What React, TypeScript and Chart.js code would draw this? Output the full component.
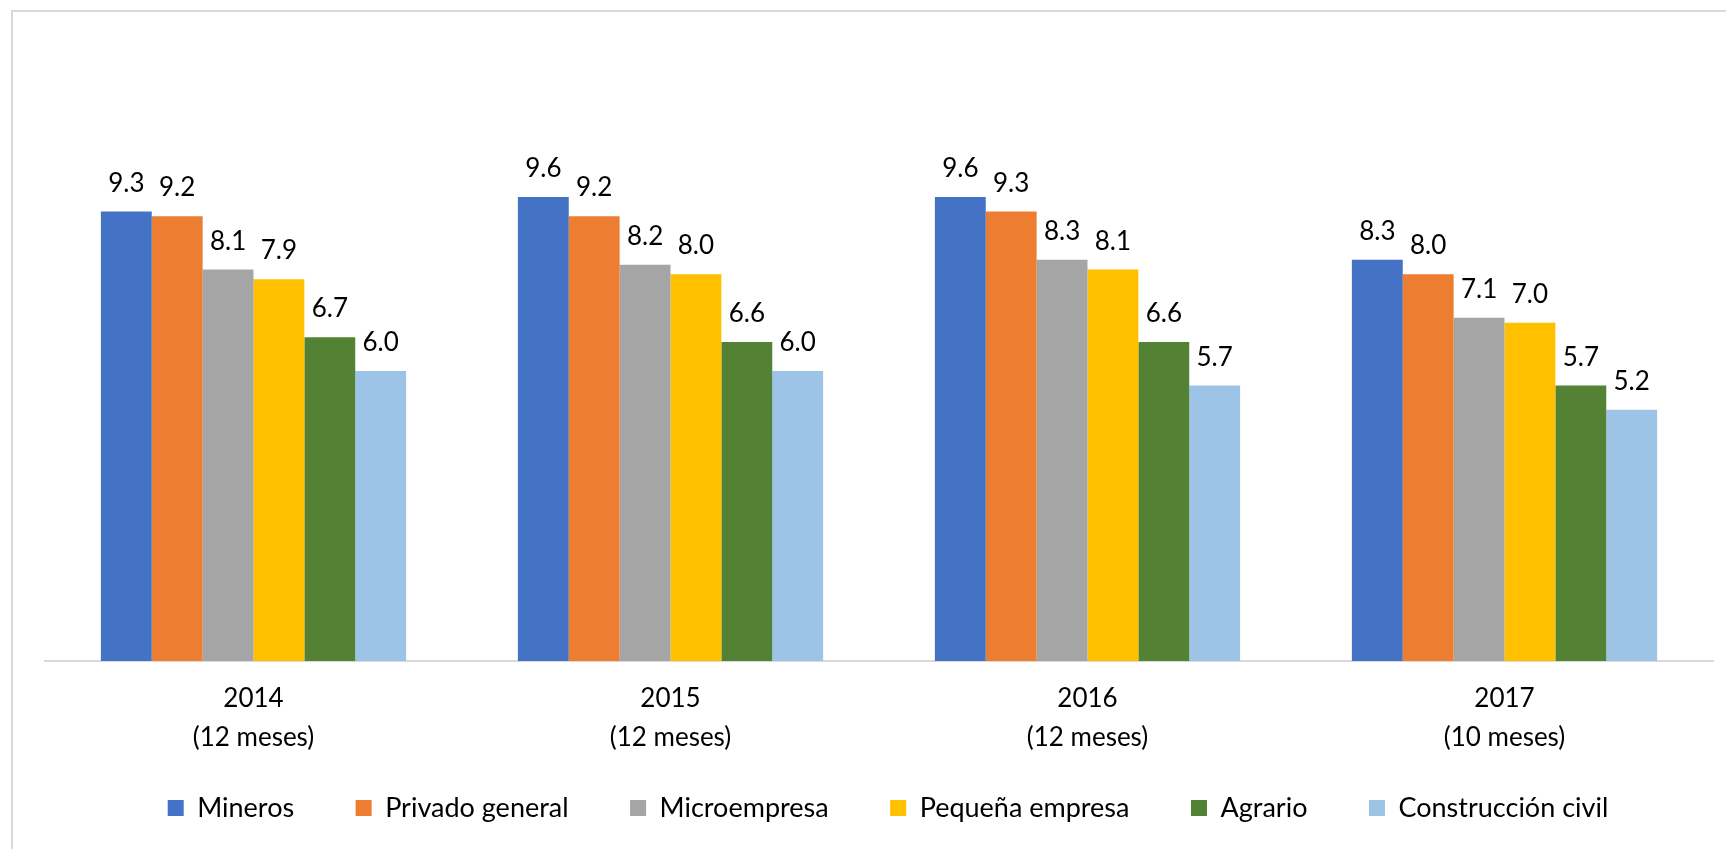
import React, { useEffect, useRef } from "react";
import { Chart, registerables } from "chart.js";

Chart.register(...registerables);

const categories = ["2014", "2015", "2016", "2017"];
const periods = ["(12 meses)", "(12 meses)", "(12 meses)", "(10 meses)"];
const seriesNames = [
  "Mineros",
  "Privado general",
  "Microempresa",
  "Pequeña empresa",
  "Agrario",
  "Construcción civil",
];
const mineros = [9.3, 9.6, 9.6, 8.3];
const privadoGeneral = [9.2, 9.2, 9.3, 8.0];
const microempresa = [8.1, 8.2, 8.3, 7.1];
const pequenaEmpresa = [7.9, 8.0, 8.1, 7.0];
const agrario = [6.7, 6.6, 6.6, 5.7];
const construccionCivil = [6.0, 6.0, 5.7, 5.2];
const seriesColors = ["#4472C4", "#ED7D31", "#A5A5A5", "#FFC000", "#548235", "#9DC3E6"];

const FONT = "Lato";
const LEGEND_FONT = 27;
const LEGEND_PAD = 61.5;
const LEGEND_TEXT_CENTER = 808;
const LEGEND_SHIFT_X = 9;
const CANVAS_W = 1726;
const CANVAS_H = 849;

const valueLabels = {
  id: "valueLabels",
  afterDatasetsDraw(chart: any) {
    const ctx = chart.ctx;
    ctx.save();
    ctx.font = `26px ${FONT}`;
    ctx.fillStyle = "#000";
    ctx.textAlign = "center";
    ctx.textBaseline = "alphabetic";
    chart.data.datasets.forEach((ds: any, i: number) => {
      const meta = chart.getDatasetMeta(i);
      meta.data.forEach((el: any, j: number) => {
        ctx.fillText(Number(ds.data[j]).toFixed(1), el.x, el.y - 20);
      });
    });
    ctx.restore();
  },
};

const legendPlacement = {
  id: "legendPlacement",
  beforeInit(chart: any) {
    const lg = chart.legend;
    if (!lg) return;
    const fit = lg.fit;
    lg.fit = function () {
      fit.call(this);
      this.height = 92;
    };
  },
  afterLayout(chart: any) {
    const lg = chart.legend;
    if (!lg) return;
    const top = LEGEND_TEXT_CENTER - LEGEND_PAD - LEGEND_FONT / 2;
    lg.top = top;
    lg.bottom = CANVAS_H;
    lg.height = CANVAS_H - top;
    lg.left += LEGEND_SHIFT_X;
    lg.right += LEGEND_SHIFT_X;
  },
};

export default function App() {
  const ref = useRef<HTMLCanvasElement>(null);
  useEffect(() => {
    document.body.style.margin = "0";
    const values = [mineros, privadoGeneral, microempresa, pequenaEmpresa, agrario, construccionCivil];
    const chart = new Chart(ref.current as HTMLCanvasElement, {
      type: "bar",
      data: {
        labels: categories.map((c, i) => [c, periods[i]]),
        datasets: seriesNames.map((name, i) => ({
          label: name,
          data: values[i],
          backgroundColor: seriesColors[i],
          borderWidth: 0,
          categoryPercentage: 0.732,
          barPercentage: 1,
        })),
      },
      options: {
        responsive: false,
        animation: false,
        devicePixelRatio: 1,
        layout: { padding: { left: 45, right: 13, top: 81, bottom: 0 } },
        plugins: {
          legend: {
            position: "bottom",
            align: "center",
            labels: {
              font: { family: FONT, size: LEGEND_FONT },
              color: "#000",
              boxWidth: 16,
              boxHeight: 16,
              padding: LEGEND_PAD,
            },
          },
          tooltip: { enabled: false },
        },
        scales: {
          x: {
            grid: { display: false, drawTicks: false, tickLength: 0 },
            border: { display: true, color: "#d9d9d9", width: 2 },
            ticks: {
              padding: 18,
              color: "#000",
              font: { family: FONT, size: 26, lineHeight: 1.5 },
              maxRotation: 0,
              autoSkip: false,
            },
            afterFit: (s: any) => {
              s.height = 96;
            },
          },
          y: { display: false, min: 0, max: 12 },
        },
      },
      plugins: [valueLabels, legendPlacement],
    });
    return () => chart.destroy();
  }, []);
  return (
    <div style={{ position: "fixed", left: 0, top: 0, width: CANVAS_W, height: CANVAS_H, overflow: "hidden", background: "#fff" }}>
      <div
        style={{
          position: "absolute",
          left: 11,
          top: 10,
          width: 1800,
          height: 900,
          border: "2px solid #d9d9d9",
          boxSizing: "border-box",
        }}
      />
      <canvas ref={ref} width={CANVAS_W} height={CANVAS_H} style={{ position: "absolute", left: 0, top: 0 }} />
    </div>
  );
}
